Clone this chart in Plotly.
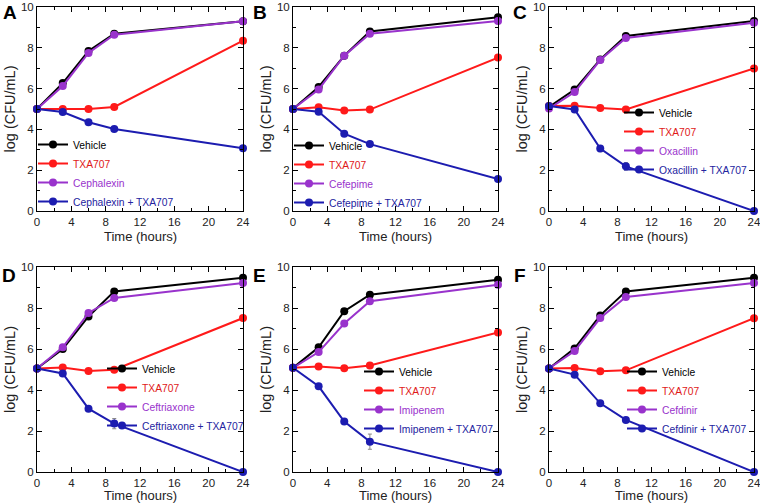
import plotly.graph_objects as go

times = [0, 3, 6, 9, 24]

panel_letters = ["A", "B", "C", "D", "E", "F"]
antibiotics = ["Cephalexin", "Cefepime", "Oxacillin", "Ceftriaxone", "Imipenem", "Cefdinir"]

vehicle = [
    [5.0, 6.27, 7.84, 8.69, 9.30],
    [5.0, 6.08, 7.61, 8.80, 9.50],
    [5.1, 5.95, 7.43, 8.58, 9.31],
    [5.05, 6.00, 7.59, 8.81, 9.48],
    [5.08, 6.08, 7.84, 8.65, 9.38],
    [5.05, 6.03, 7.64, 8.81, 9.48],
]
txa707 = [
    [5.0, 5.0, 5.0, 5.1, 8.35],
    [5.0, 5.08, 4.93, 4.97, 7.52],
    [5.15, 5.16, 5.05, 4.98, 6.99],
    [5.05, 5.10, 4.93, 4.99, 7.51],
    [5.08, 5.15, 5.06, 5.20, 6.81],
    [5.05, 5.07, 4.91, 4.96, 7.50],
]
antibiotic = [
    [5.0, 6.13, 7.75, 8.64, 9.30],
    [5.0, 5.95, 7.61, 8.69, 9.31],
    [5.02, 5.83, 7.40, 8.48, 9.23],
    [5.05, 6.08, 7.76, 8.49, 9.22],
    [5.08, 5.85, 7.24, 8.33, 9.14],
    [5.05, 5.90, 7.51, 8.54, 9.22],
]
combo = [
    [5.0, 4.85, 4.35, 4.02, 3.07],
    [5.0, 4.87, 3.79, 3.28, 1.57],
    [5.15, 4.98, 3.06, 2.19, 0.0],
    [5.05, 4.81, 3.09, 2.36, 0.0],
    [5.08, 4.18, 2.46, 1.48, 0.0],
    [5.05, 4.75, 3.35, 2.54, 0.0],
]
combo_err = [
    [0, 0.05, 0.05, 0.05, 0],
    [0, 0.05, 0.05, 0.05, 0],
    [0, 0, 0.15, 0.18, 0],
    [0, 0.05, 0.08, 0.25, 0],
    [0, 0.05, 0.08, 0.37, 0],
    [0, 0.05, 0.05, 0.05, 0],
]

x_ticks = [0, 4, 8, 12, 16, 20, 24]
y_ticks = [0, 2, 4, 6, 8, 10]
x_title = "Time (hours)"
y_title = "log (CFU/mL)"

W, H = 760, 503
FONT = "Liberation Sans, Arial, sans-serif"

# layout geometry in pixels
col_x = [(37, 243), (293, 498), (549, 754)]
row_y = [(7, 211), (267, 472)]
xtitle_y = [236, 495]
legend_pos = [(33, 173), (289, 174), (619, 141), (102, 397), (359, 400), (622, 400)]
letter_pos = [(1, 0), (251, 0), (511, 0), (0, 263), (251, 263), (512, 263)]

colors = {"veh": "#000000", "txa": "#ff1a1a", "abx": "#9933cc", "combo": "#1c1cb0"}
text_colors = {"veh": "#000000", "txa": "#e01818", "abx": "#9933cc", "combo": "#2424a0"}

fig = go.Figure()
layout = dict(
    width=W, height=H, margin=dict(l=0, r=0, t=0, b=0, autoexpand=False),
    paper_bgcolor="white", plot_bgcolor="white",
    font=dict(family=FONT, color="#222"),
    annotations=[],
)

for i in range(6):
    r, c = divmod(i, 3)
    n = "" if i == 0 else str(i + 1)
    xa, ya = "x" + n, "y" + n
    leg = "legend" + n
    x0, x1 = col_x[c]
    y0, y1 = row_y[r]
    series = [
        ("veh", "Vehicle", vehicle[i], None),
        ("txa", "TXA707", txa707[i], None),
        ("abx", antibiotics[i], antibiotic[i], None),
        ("combo", antibiotics[i] + " + TXA707", combo[i], combo_err[i]),
    ]
    for key, name, vals, err in series:
        tr = go.Scatter(
            x=times, y=vals, mode="lines+markers",
            name='<span style="color:%s">%s</span>' % (text_colors[key], name),
            line=dict(color=colors[key], width=2),
            marker=dict(color=colors[key], size=8),
            xaxis=xa, yaxis=ya, legend=leg, cliponaxis=False,
        )
        if err is not None:
            tr.error_y = dict(type="data", array=err, visible=True,
                              color="#888888", thickness=1, width=2)
        fig.add_trace(tr)

    axcommon = dict(
        showgrid=False, zeroline=False, showline=True, linecolor="black",
        linewidth=1, mirror="ticks", ticks="inside", ticklen=5,
        tickcolor="black", tickfont=dict(size=11.5, family=FONT, color="#222"),
        ticklabeloverflow="allow",
    )
    layout["xaxis" + n] = dict(
        axcommon, domain=[x0 / W, x1 / W], anchor=ya, range=[0, 24],
        tickvals=x_ticks, ticktext=[str(t) for t in x_ticks],
        minor=dict(ticks="inside", ticklen=3, dtick=2, tick0=0, tickcolor="black"),
    )
    layout["yaxis" + n] = dict(
        axcommon, domain=[1 - y1 / H, 1 - y0 / H], anchor=xa, range=[0, 10],
        tickvals=y_ticks, ticktext=[str(t) for t in y_ticks],
        minor=dict(ticks="inside", ticklen=3, dtick=1, tick0=0, tickcolor="black"),
        title=dict(text=y_title, font=dict(size=14.5, family=FONT, color="#222"), standoff=1),
    )
    layout["annotations"].append(dict(
        text=x_title, x=(x0 + x1) / 2 / W, y=1 - xtitle_y[r] / H,
        xref="paper", yref="paper", xanchor="center", yanchor="middle",
        showarrow=False, font=dict(size=13, family=FONT, color="#222"),
    ))
    lx, ly = legend_pos[i]
    layout[leg] = dict(
        x=lx / W, y=1 - ly / H, xanchor="left", yanchor="middle",
        bgcolor="rgba(0,0,0,0)", borderwidth=0, itemwidth=30,
        font=dict(size=10.3, family=FONT), tracegroupgap=0,
    )
    px, py = letter_pos[i]
    layout["annotations"].append(dict(
        text="<b>%s</b>" % panel_letters[i], x=px / W, y=1 - py / H,
        xref="paper", yref="paper", xanchor="left", yanchor="top",
        showarrow=False, font=dict(size=19, family=FONT, color="black"),
    ))

fig.update_layout(**layout)
fig.write_html("out.html", config={"displayModeBar": False},
               post_script="document.body.style.margin='0';")
